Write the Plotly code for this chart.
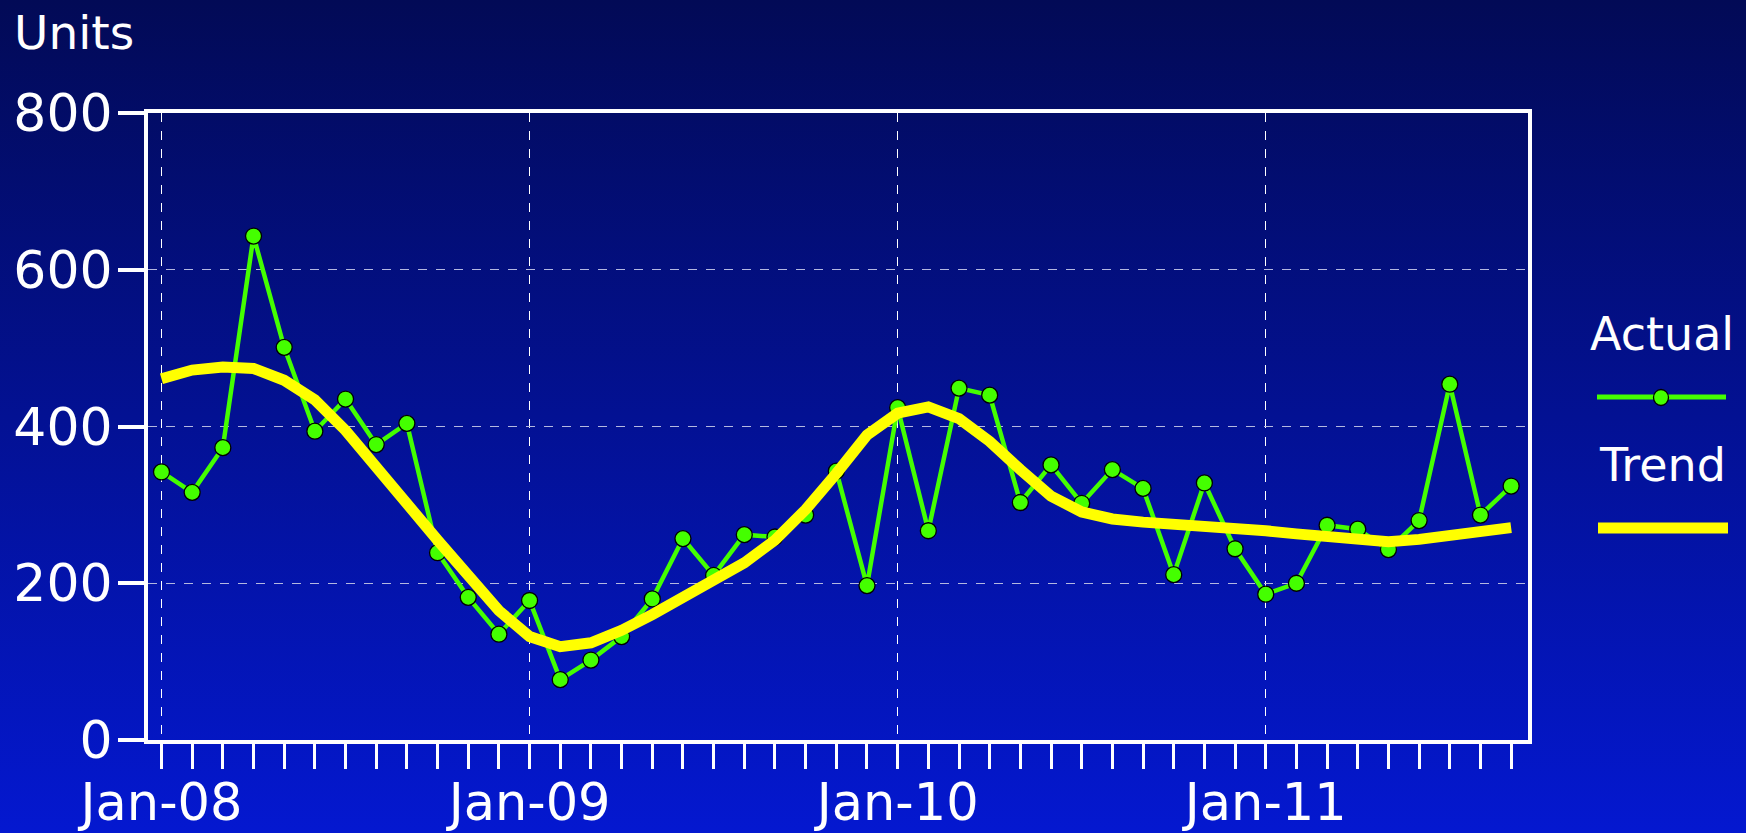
import base64
import plotly.graph_objects as go

# ---------------- data ----------------
months = list(range(45))  # Jan-08 .. Sep-11 (monthly index)
tick_positions = [0, 12, 24, 36]
tick_labels = ["Jan-08", "Jan-09", "Jan-10", "Jan-11"]

actual = [342, 316, 373, 643, 501, 394, 435, 377, 404, 239, 182, 135,
          178, 77, 102, 132, 180, 257, 210, 262, 259, 287, 343, 197,
          424, 267, 449, 440, 303, 351, 302, 345, 321, 211, 328, 244,
          186, 200, 274, 269, 243, 280, 454, 287, 324]

trend = [461, 472, 476, 474, 459, 434, 395, 347, 300, 255, 210, 165,
         132, 119, 124, 140, 160, 181, 202, 226, 255, 294, 340, 389,
         417, 425, 410, 381, 345, 311, 291, 282, 278, 276, 274, 271,
         267, 263, 259, 254, 253, 256, 260, 265, 271]

y_ticks = [0, 200, 400, 600, 800]

# ---------------- figure ----------------
W, H = 1746, 833
L, R, T, B = 148, 218, 113, 93
pw, ph = W - L - R, H - T - B

def px(x):
    return (x - L) / pw

def py(y):
    return (H - B - y) / ph

FONT = "DejaVu Sans"
GREEN = "#44ff00"
YELLOW = "#ffff00"

fig = go.Figure()
fig.add_trace(go.Scatter(
    x=months, y=actual, mode="lines+markers", name="Actual",
    line=dict(color=GREEN, width=4.5),
    marker=dict(size=16, color=GREEN, line=dict(color="black", width=1.3)),
    showlegend=False, cliponaxis=False))
fig.add_trace(go.Scatter(
    x=months, y=trend, mode="lines", name="Trend",
    line=dict(color=YELLOW, width=11),
    showlegend=False, cliponaxis=False))

# gradient background
svg = ('<svg xmlns="http://www.w3.org/2000/svg" width="100" height="100" preserveAspectRatio="none" viewBox="0 0 100 100">'
       '<defs><linearGradient id="g" x1="0" y1="0" x2="0" y2="1">'
       '<stop offset="0" stop-color="#020a56"/><stop offset="1" stop-color="#0418d0"/>'
       '</linearGradient></defs><rect width="100" height="100" fill="url(#g)"/></svg>')
uri = "data:image/svg+xml;base64," + base64.b64encode(svg.encode()).decode()
fig.add_layout_image(dict(source=uri, xref="paper", yref="paper",
                          x=px(0), y=py(0), sizex=W / pw, sizey=H / ph,
                          xanchor="left", yanchor="top", sizing="stretch",
                          layer="below"))

fig.update_layout(
    width=W, height=H,
    margin=dict(l=L, r=R, t=T, b=B, autoexpand=False),
    paper_bgcolor="#0210a0",
    plot_bgcolor="rgba(0,0,0,0)",
    font=dict(family=FONT, color="white"),
    showlegend=False,
)

fig.update_xaxes(
    automargin=False,
    range=[-0.44, 44.55],
    tickmode="array", tickvals=tick_positions, ticktext=tick_labels,
    ticks="outside", ticklen=25, tickwidth=3, tickcolor="white",
    tickfont=dict(size=51, color="white", family=FONT),
    ticklabelstandoff=-10,
    showgrid=True, gridcolor="#ffffff", gridwidth=1.2, griddash="dash",
    minor=dict(tickmode="linear", tick0=0, dtick=1, ticks="outside",
               ticklen=25, tickwidth=3, tickcolor="white", showgrid=False),
    showline=True, linecolor="white", linewidth=4, mirror=True,
    zeroline=False,
)
fig.update_yaxes(
    automargin=False,
    range=[0, 800], tickvals=y_ticks,
    ticks="outside", ticklen=26, tickwidth=4, tickcolor="white",
    tickfont=dict(size=52, color="white", family=FONT),
    ticklabelstandoff=-5,
    showgrid=True, gridcolor="#b4b8e0", gridwidth=1.2, griddash="dash",
    showline=True, linecolor="white", linewidth=4, mirror=True,
    zeroline=False,
)

# "Units" label
fig.add_annotation(text="Units", xref="paper", yref="paper",
                   x=px(12), y=py(33), xanchor="left", yanchor="middle",
                   showarrow=False, font=dict(size=47, color="white", family=FONT))

# custom legend
fig.add_annotation(text="Actual", xref="paper", yref="paper",
                   x=px(1662), y=py(334), xanchor="center", yanchor="middle",
                   showarrow=False, font=dict(size=46, color="white", family=FONT))
fig.add_annotation(text="Trend", xref="paper", yref="paper",
                   x=px(1662), y=py(465), xanchor="center", yanchor="middle",
                   showarrow=False, font=dict(size=46, color="white", family=FONT))
fig.add_shape(type="line", xref="paper", yref="paper",
              x0=px(1597), x1=px(1726), y0=py(397), y1=py(397),
              line=dict(color=GREEN, width=5))
fig.add_shape(type="circle", xref="paper", yref="paper",
              x0=px(1653.5), x1=px(1668.5), y0=py(389.5), y1=py(405.5),
              fillcolor=GREEN, line=dict(color="black", width=1.3))
fig.add_shape(type="line", xref="paper", yref="paper",
              x0=px(1598), x1=px(1728), y0=py(528), y1=py(528),
              line=dict(color=YELLOW, width=11))

fig.write_html("out.html",
               config={"displayModeBar": False},
               post_script="document.body.style.margin='0';document.body.style.overflow='hidden';")
